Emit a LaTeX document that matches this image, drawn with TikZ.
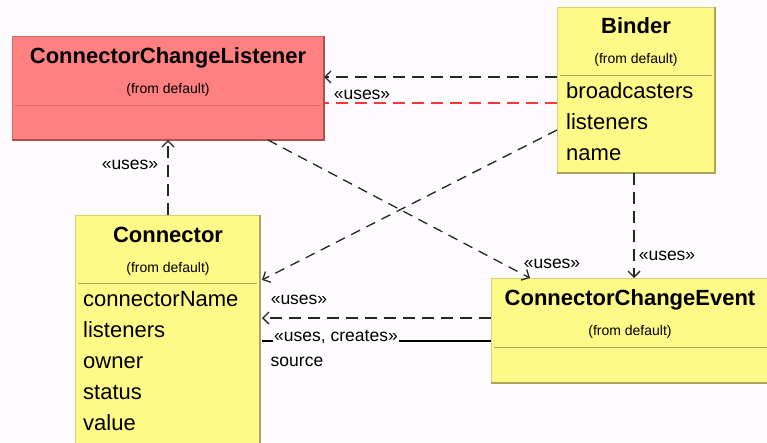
\documentclass[tikz,border=0pt]{standalone}
\usepackage{fontspec}
\setmainfont{Liberation Sans}
\usetikzlibrary{arrows.meta}
\definecolor{bg}{RGB}{253,251,253}
\definecolor{yfill}{RGB}{255,249,135}
\definecolor{yedge}{RGB}{214,208,120}
\definecolor{yshade}{RGB}{170,165,90}
\definecolor{rfill}{RGB}{255,128,128}
\definecolor{redge}{RGB}{210,110,110}
\definecolor{rshade}{RGB}{170,80,80}
\definecolor{reddash}{RGB}{250,55,55}
\begin{document}
\begin{tikzpicture}[x=1pt,y=-1pt,
  ycls/.style={rectangle,fill=yfill,draw=yedge,line width=1pt,inner sep=0pt,outer sep=0pt},
  rcls/.style={rectangle,fill=rfill,draw=redge,line width=1pt,inner sep=0pt,outer sep=0pt},
  ttl/.style={anchor=base,inner sep=0pt,font=\fontsize{22}{22}\selectfont\bfseries},
  frm/.style={anchor=base,inner sep=0pt,font=\fontsize{14}{14}\selectfont},
  attr/.style={anchor=base west,inner sep=0pt,font=\fontsize{22}{22}\selectfont},
  lbl/.style={anchor=base,inner sep=0pt,font=\fontsize{17.5}{17.5}\selectfont},
  dep/.style={draw=black!85,line width=1.3pt,dash pattern=on 12pt off 7pt,-{Straight Barb[length=6pt,width=12pt]}},
  diag/.style={dash pattern=on 10pt off 7pt},
]
\fill[bg] (0,0) rectangle (767,442);
\useasboundingbox (0,0) rectangle (767,442);
\clip (0,0) rectangle (767,442);

% class boxes
\node[rcls,minimum width=312pt,minimum height=104pt] (ccl) at (168,88) {};
\node[ycls,minimum width=158pt,minimum height=166pt] (binder) at (636,90) {};
\node[ycls,minimum width=185pt,minimum height=240pt] (conn) at (167.5,335) {};
\node[ycls,minimum width=279pt,minimum height=105pt] (cce) at (630.5,330.5) {};

% shading edges
\draw[rshade,line width=2pt] (ccl.north east) -- (ccl.south east) -- (ccl.south west);
\draw[yshade,line width=2pt] (binder.north east) -- (binder.south east) -- (binder.south west);
\draw[yshade,line width=2pt] (conn.north east) -- (conn.south east);
\draw[yshade,line width=2pt] (cce.south east) -- (cce.south west);

% helper levels
\coordinate (y77) at (0,77);
\coordinate (y103) at (0,103);
\coordinate (y130) at (0,130);
\coordinate (y280) at (0,280);
\coordinate (y318) at (0,318);
\coordinate (y341) at (0,341);
\coordinate (y105) at (0,105);
\coordinate (y75) at (0,75);
\coordinate (y283) at (0,283);
\coordinate (y347) at (0,347);
\coordinate (x168) at (168,0);
\coordinate (x268) at (268,0);
\coordinate (x530) at (530,0);
\coordinate (x634) at (634,0);

% separators
\draw[redge,line width=1pt] ([xshift=3pt]ccl.west |- y105) -- ([xshift=-3pt]ccl.east |- y105);
\draw[yedge!80!black,line width=1pt] ([xshift=3pt]binder.west |- y75) -- ([xshift=-3pt]binder.east |- y75);
\draw[yedge!80!black,line width=1pt] ([xshift=3pt]conn.west |- y283) -- ([xshift=-3pt]conn.east |- y283);
\draw[yedge!80!black,line width=1pt] ([xshift=3pt]cce.west |- y347) -- ([xshift=-3pt]cce.east |- y347);

% texts
\node[ttl] (t1) at (168,63) {ConnectorChangeListener};
\node[frm] (f1) at (168,93) {(from default)};
\node[ttl] (t2) at (636,33) {Binder};
\node[frm] (f2) at (636,63) {(from default)};
\node[attr] (a21) at (566,98) {broadcasters};
\node[attr] (a22) at (566,129) {listeners};
\node[attr] (a23) at (566,160) {name};
\node[ttl] (t3) at (168,242) {Connector};
\node[frm] (f3) at (168,272) {(from default)};
\node[attr] (a31) at (83,306) {connectorName};
\node[attr] (a32) at (83,337) {listeners};
\node[attr] (a33) at (83,368) {owner};
\node[attr] (a34) at (83,399) {status};
\node[attr] (a35) at (83,430) {value};
\node[ttl] (t4) at (630,305) {ConnectorChangeEvent};
\node[frm] (f4) at (630,335) {(from default)};

% connectors
\draw[dep] (binder.west |- y77) -- (ccl.east |- y77);
\draw[reddash,line width=1.3pt,dash pattern=on 12pt off 7pt] (binder.west |- y103) -- (ccl.east |- y103);
\draw[dep] (conn.north -| x168) -- (ccl.south -| x168);
\draw[dep,diag] (binder.west |- y130) -- ([xshift=2pt]conn.east |- y280);
\draw[dep,diag] (ccl.south -| x268) -- (cce.north -| x530);
\draw[dep] (binder.south -| x634) -- (cce.north -| x634);
\draw[dep] (cce.west |- y318) -- ([xshift=2pt]conn.east |- y318);
\draw[black,line width=1.3pt] (cce.west |- y341) -- ([xshift=2pt]conn.east |- y341);

% labels
\node[lbl] (l1) at (362,99) {«uses»};
\node[lbl] (l2) at (130,169) {«uses»};
\node[lbl] (l3) at (299,304) {«uses»};
\node[lbl,fill=bg,inner sep=1pt] (l4) at (336,341) {«uses, creates»};
\node[lbl] (l5) at (297,366) {source};
\node[lbl] (l6) at (552,268) {«uses»};
\node[lbl] (l7) at (667,260) {«uses»};
\end{tikzpicture}
\end{document}
